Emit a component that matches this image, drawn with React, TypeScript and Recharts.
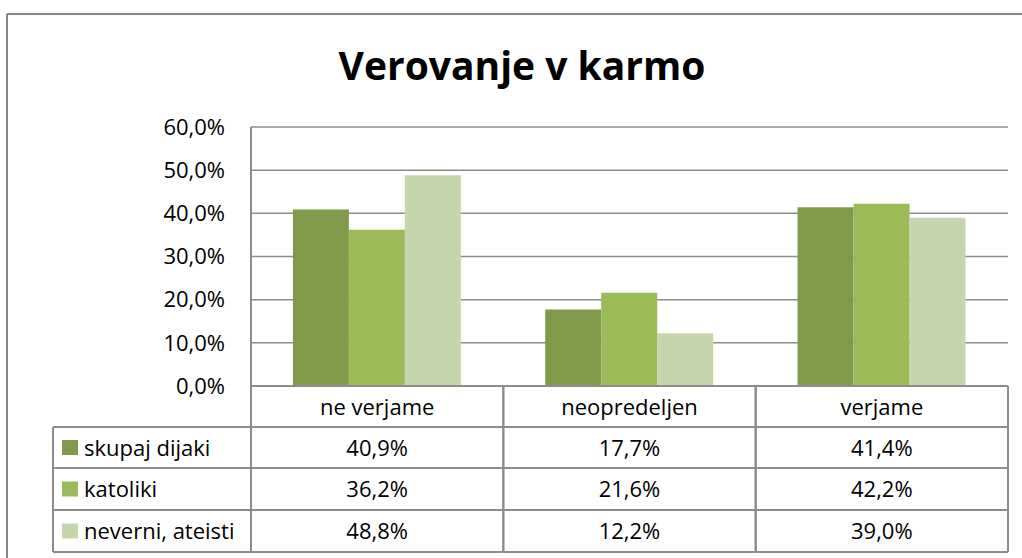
import React from 'react';
import { BarChart, Bar, XAxis, YAxis, CartesianGrid } from 'recharts';

const title = 'Verovanje v karmo';
const categories = ['ne verjame', 'neopredeljen', 'verjame'];
const seriesNames = ['skupaj dijaki', 'katoliki', 'neverni, ateisti'];
const skupajDijaki = [40.9, 17.7, 41.4];
const katoliki = [36.2, 21.6, 42.2];
const neverniAteisti = [48.8, 12.2, 39.0];
const yTicks = [0, 10, 20, 30, 40, 50, 60];
const seriesColors = ['#7F9A48', '#9BBB59', '#C6D6AC'];

const seriesKeys = ['s0', 's1', 's2'];
const seriesValues = [skupajDijaki, katoliki, neverniAteisti];
const data = categories.map((c, i) => {
  const row: any = { category: c };
  seriesKeys.forEach((k, s) => {
    row[k] = seriesValues[s][i];
  });
  return row;
});

const fmt = (v: number) => v.toFixed(1).replace('.', ',') + '%';

const W = 1022;
const H = 558;
const PLOT_LEFT = 251;
const PLOT_RIGHT = 1008;
const PLOT_TOP = 127;
const PLOT_BOTTOM = 386;
const ROW_Y = [386, 427, 468, 510, 552];
const LEGEND_LEFT = 53;
const BAND = (PLOT_RIGHT - PLOT_LEFT) / categories.length;
const FONT = "'Open Sans', sans-serif";
const LINE = '#8c8c8c';
const FS = 22;
const Y_AXIS_W = 60;

function TableTick(props: any) {
  const { x, payload, index } = props;
  const ci = payload && payload.index != null ? payload.index : index;
  const left = x - BAND / 2;
  const right = x + BAND / 2;
  const mid = (r: number) => (ROW_Y[r] + ROW_Y[r + 1]) / 2;
  const els: any[] = [];
  // column cells
  ROW_Y.forEach((yy, r) => {
    els.push(<line key={'h' + r} x1={left} x2={right} y1={yy} y2={yy} stroke={LINE} strokeWidth={2} />);
  });
  els.push(<line key="vl" x1={left} x2={left} y1={ROW_Y[0]} y2={ROW_Y[4]} stroke={LINE} strokeWidth={2} />);
  els.push(<line key="vr" x1={right} x2={right} y1={ROW_Y[0]} y2={ROW_Y[4]} stroke={LINE} strokeWidth={2} />);
  els.push(
    <text key="cat" x={x} y={mid(0) + 8} textAnchor="middle" fontSize={FS} fontFamily={FONT} fill="#000">
      {categories[ci]}
    </text>
  );
  seriesValues.forEach((vals, s) => {
    els.push(
      <text key={'v' + s} x={x} y={mid(s + 1) + 8} textAnchor="middle" fontSize={FS} fontFamily={FONT} fill="#000">
        {fmt(vals[ci])}
      </text>
    );
  });
  if (ci === 0) {
    for (let r = 1; r < ROW_Y.length; r++) {
      els.push(<line key={'lh' + r} x1={LEGEND_LEFT} x2={left} y1={ROW_Y[r]} y2={ROW_Y[r]} stroke={LINE} strokeWidth={2} />);
    }
    els.push(<line key="lv" x1={LEGEND_LEFT} x2={LEGEND_LEFT} y1={ROW_Y[1]} y2={ROW_Y[4]} stroke={LINE} strokeWidth={2} />);
    seriesNames.forEach((n, s) => {
      const cy = mid(s + 1);
      els.push(<rect key={'sq' + s} x={62} y={cy - 7.5} width={16} height={15} fill={seriesColors[s]} />);
      els.push(
        <text key={'ln' + s} x={84} y={cy + 8} textAnchor="start" fontSize={FS} fontFamily={FONT} fill="#000">
          {n}
        </text>
      );
    });
  }
  return <g>{els}</g>;
}

export default function App() {
  return (
    <div style={{ position: 'absolute', left: 0, top: 0, width: W, height: H, overflow: 'hidden', background: '#fff' }}>
      <svg width={W} height={H} style={{ position: 'absolute', left: 0, top: 0 }}>
        <line x1={7} x2={W} y1={14} y2={14} stroke="#868686" strokeWidth={2} />
        <line x1={7} x2={7} y1={14} y2={H} stroke="#868686" strokeWidth={2} />
        <text x={522} y={80} textAnchor="middle" fontSize={39} fontWeight="bold" fontFamily={FONT} fill="#000">
          {title}
        </text>
      </svg>
      <div style={{ position: 'absolute', left: 0, top: 0 }}>
        <BarChart
          width={W}
          height={H}
          data={data}
          margin={{ top: PLOT_TOP, right: W - PLOT_RIGHT, left: PLOT_LEFT - Y_AXIS_W, bottom: 6 }}
          barCategoryGap="16.6%"
          barGap={0}
          style={{ fontFamily: FONT }}
        >
          <CartesianGrid horizontal={true} vertical={false} stroke={LINE} strokeWidth={1.5} />
          <YAxis
            type="number"
            domain={[0, 60]}
            ticks={yTicks}
            tickFormatter={fmt}
            width={Y_AXIS_W}
            axisLine={{ stroke: LINE, strokeWidth: 2 }}
            tickLine={false}
            tickSize={0}
            tickMargin={26}
            tick={{ fontSize: FS, fill: '#000', fontFamily: FONT }}
            interval={0}
          />
          <XAxis
            dataKey="category"
            axisLine={false}
            tickLine={false}
            tickSize={0}
            tickMargin={0}
            height={H - PLOT_BOTTOM - 6}
            interval={0}
            tick={(p: any) => <TableTick {...p} />}
          />
          {seriesKeys.map((k, s) => (
            <Bar key={k} dataKey={k} name={seriesNames[s]} fill={seriesColors[s]} isAnimationActive={false} />
          ))}
        </BarChart>
      </div>
    </div>
  );
}
